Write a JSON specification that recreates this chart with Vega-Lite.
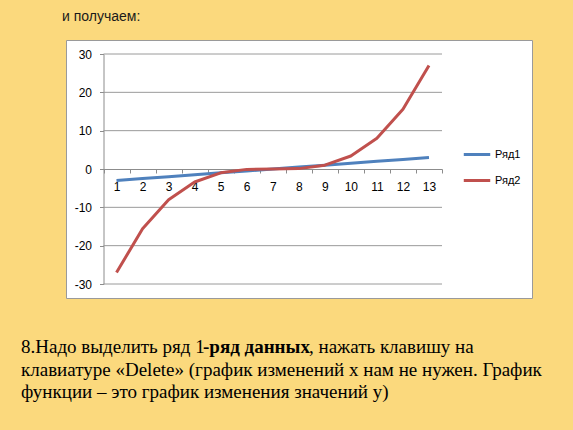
{
  "$schema": "https://vega.github.io/schema/vega-lite/v6.json",
  "background": "#FBD97D",
  "padding": {"left": 21, "top": 9, "right": 0, "bottom": 0},
  "bounds": "flush",
  "spacing": 43.75,
  "title": {
    "text": "и получаем:",
    "anchor": "start",
    "frame": "group",
    "font": "Liberation Sans",
    "fontSize": 14,
    "fontWeight": "normal",
    "color": "#1a1a1a",
    "dx": -4,
    "offset": 16
  },
  "vconcat": [
    {
      "width": 466,
      "height": 258,
      "view": {"fill": "white", "stroke": "#9A9A9A", "strokeWidth": 1},
      "layer": [
        {
          "data": {
            "values": [
              {"g": -30}, {"g": -20}, {"g": -10}, {"g": 10}, {"g": 20}, {"g": 30}
            ]
          },
          "mark": {"type": "rule", "color": "#9A9A9A", "strokeWidth": 1},
          "encoding": {
            "y": {"field": "g", "type": "quantitative"},
            "x": {"datum": 0.5, "type": "quantitative"},
            "x2": {"datum": 13.5}
          }
        },
        {
          "data": {
            "values": [
              {"x": 1, "series": "Ряд1", "y": -3},
              {"x": 2, "series": "Ряд1", "y": -2.5},
              {"x": 3, "series": "Ряд1", "y": -2},
              {"x": 4, "series": "Ряд1", "y": -1.5},
              {"x": 5, "series": "Ряд1", "y": -1},
              {"x": 6, "series": "Ряд1", "y": -0.5},
              {"x": 7, "series": "Ряд1", "y": 0},
              {"x": 8, "series": "Ряд1", "y": 0.5},
              {"x": 9, "series": "Ряд1", "y": 1},
              {"x": 10, "series": "Ряд1", "y": 1.5},
              {"x": 11, "series": "Ряд1", "y": 2},
              {"x": 12, "series": "Ряд1", "y": 2.5},
              {"x": 13, "series": "Ряд1", "y": 3},
              {"x": 1, "series": "Ряд2", "y": -27},
              {"x": 2, "series": "Ряд2", "y": -15.6},
              {"x": 3, "series": "Ряд2", "y": -8},
              {"x": 4, "series": "Ряд2", "y": -3.4},
              {"x": 5, "series": "Ряд2", "y": -1},
              {"x": 6, "series": "Ряд2", "y": -0.1},
              {"x": 7, "series": "Ряд2", "y": 0},
              {"x": 8, "series": "Ряд2", "y": 0.1},
              {"x": 9, "series": "Ряд2", "y": 1},
              {"x": 10, "series": "Ряд2", "y": 3.4},
              {"x": 11, "series": "Ряд2", "y": 8},
              {"x": 12, "series": "Ряд2", "y": 15.6},
              {"x": 13, "series": "Ряд2", "y": 27}
            ]
          },
          "mark": {"type": "line", "strokeWidth": 3, "strokeJoin": "round"},
          "encoding": {
            "x": {
              "field": "x",
              "type": "quantitative",
              "scale": {"domain": [0.5, 13.5], "range": [37.5, 376], "nice": false, "zero": false},
              "axis": {
                "orient": "bottom",
                "offset": -129,
                "title": null,
                "grid": false,
                "values": [0.5, 1.5, 2.5, 3.5, 4.5, 5.5, 6.5, 7.5, 8.5, 9.5, 10.5, 11.5, 12.5, 13.5],
                "tickCount": 30,
                "labelExpr": "datum.value < 13 ? format(datum.value + 0.5, 'd') : ''",
                "labelOffset": 13,
                "labelOverlap": false,
                "labelFlush": false,
                "tickSize": 4,
                "labelPadding": 8
              }
            },
            "y": {
              "field": "y",
              "type": "quantitative",
              "scale": {"domain": [-30, 30], "range": [244, 14], "nice": false, "zero": false},
              "axis": {
                "orient": "left",
                "offset": -37.5,
                "title": null,
                "grid": false,
                "values": [-30, -20, -10, 0, 10, 20, 30],
                "tickCount": 20,
                "labelExpr": "'' + datum.value",
                "tickSize": 4,
                "labelPadding": 8
              }
            },
            "color": {
              "field": "series",
              "type": "nominal",
              "scale": {"domain": ["Ряд1", "Ряд2"], "range": ["#4F81BD", "#C0504D"]},
              "legend": {
                "title": null,
                "orient": "none",
                "legendX": 396,
                "legendY": 99.5,
                "symbolType": "stroke",
                "symbolSize": 700,
                "symbolStrokeWidth": 3,
                "labelFont": "Liberation Sans",
                "labelFontSize": 11,
                "labelColor": "#000",
                "labelOffset": 3,
                "rowPadding": 5,
                "padding": 0
              }
            }
          }
        }
      ]
    },
    {
      "width": 507,
      "height": 88.25,
      "view": {"fill": null, "stroke": null},
      "data": {
        "values": [
          {"line": 1, "seg": "a", "text": "8.Надо выделить ряд 1"},
          {"line": 1, "seg": "b", "text": "-ряд данных"},
          {"line": 1, "seg": "c", "text": ", нажать клавишу на"},
          {"line": 2, "seg": "a", "text": "клавиатуре «Delete» (график изменений х нам не нужен. График"},
          {"line": 3, "seg": "a", "text": "функции – это график изменения значений у)"}
        ]
      },
      "encoding": {
        "x": {"datum": 0, "type": "quantitative", "scale": {"domain": [0, 1]}, "axis": null},
        "y": {"field": "line", "type": "ordinal", "scale": {"type": "point", "range": [11.25, 56.25], "padding": 0}, "axis": null},
        "text": {"field": "text"}
      },
      "layer": [
        {
          "transform": [{"filter": "datum.seg == 'a'"}],
          "mark": {"type": "text", "align": "left", "baseline": "alphabetic", "dx": -45, "font": "Liberation Serif", "fontSize": 19, "color": "#000"}
        },
        {
          "transform": [{"filter": "datum.seg == 'b'"}],
          "mark": {"type": "text", "align": "left", "baseline": "alphabetic", "dx": 137, "font": "Liberation Serif", "fontSize": 19, "fontWeight": "bold", "color": "#000"}
        },
        {
          "transform": [{"filter": "datum.seg == 'c'"}],
          "mark": {"type": "text", "align": "left", "baseline": "alphabetic", "dx": 243, "font": "Liberation Serif", "fontSize": 19, "color": "#000"}
        }
      ]
    }
  ],
  "config": {
    "axis": {
      "labelFont": "Liberation Sans",
      "labelFontSize": 12,
      "labelColor": "#000",
      "domainColor": "#8C8C8C",
      "tickColor": "#8C8C8C",
      "domainWidth": 1,
      "tickWidth": 1
    },
    "axisX": {"labelOverlap": false}
  }
}
